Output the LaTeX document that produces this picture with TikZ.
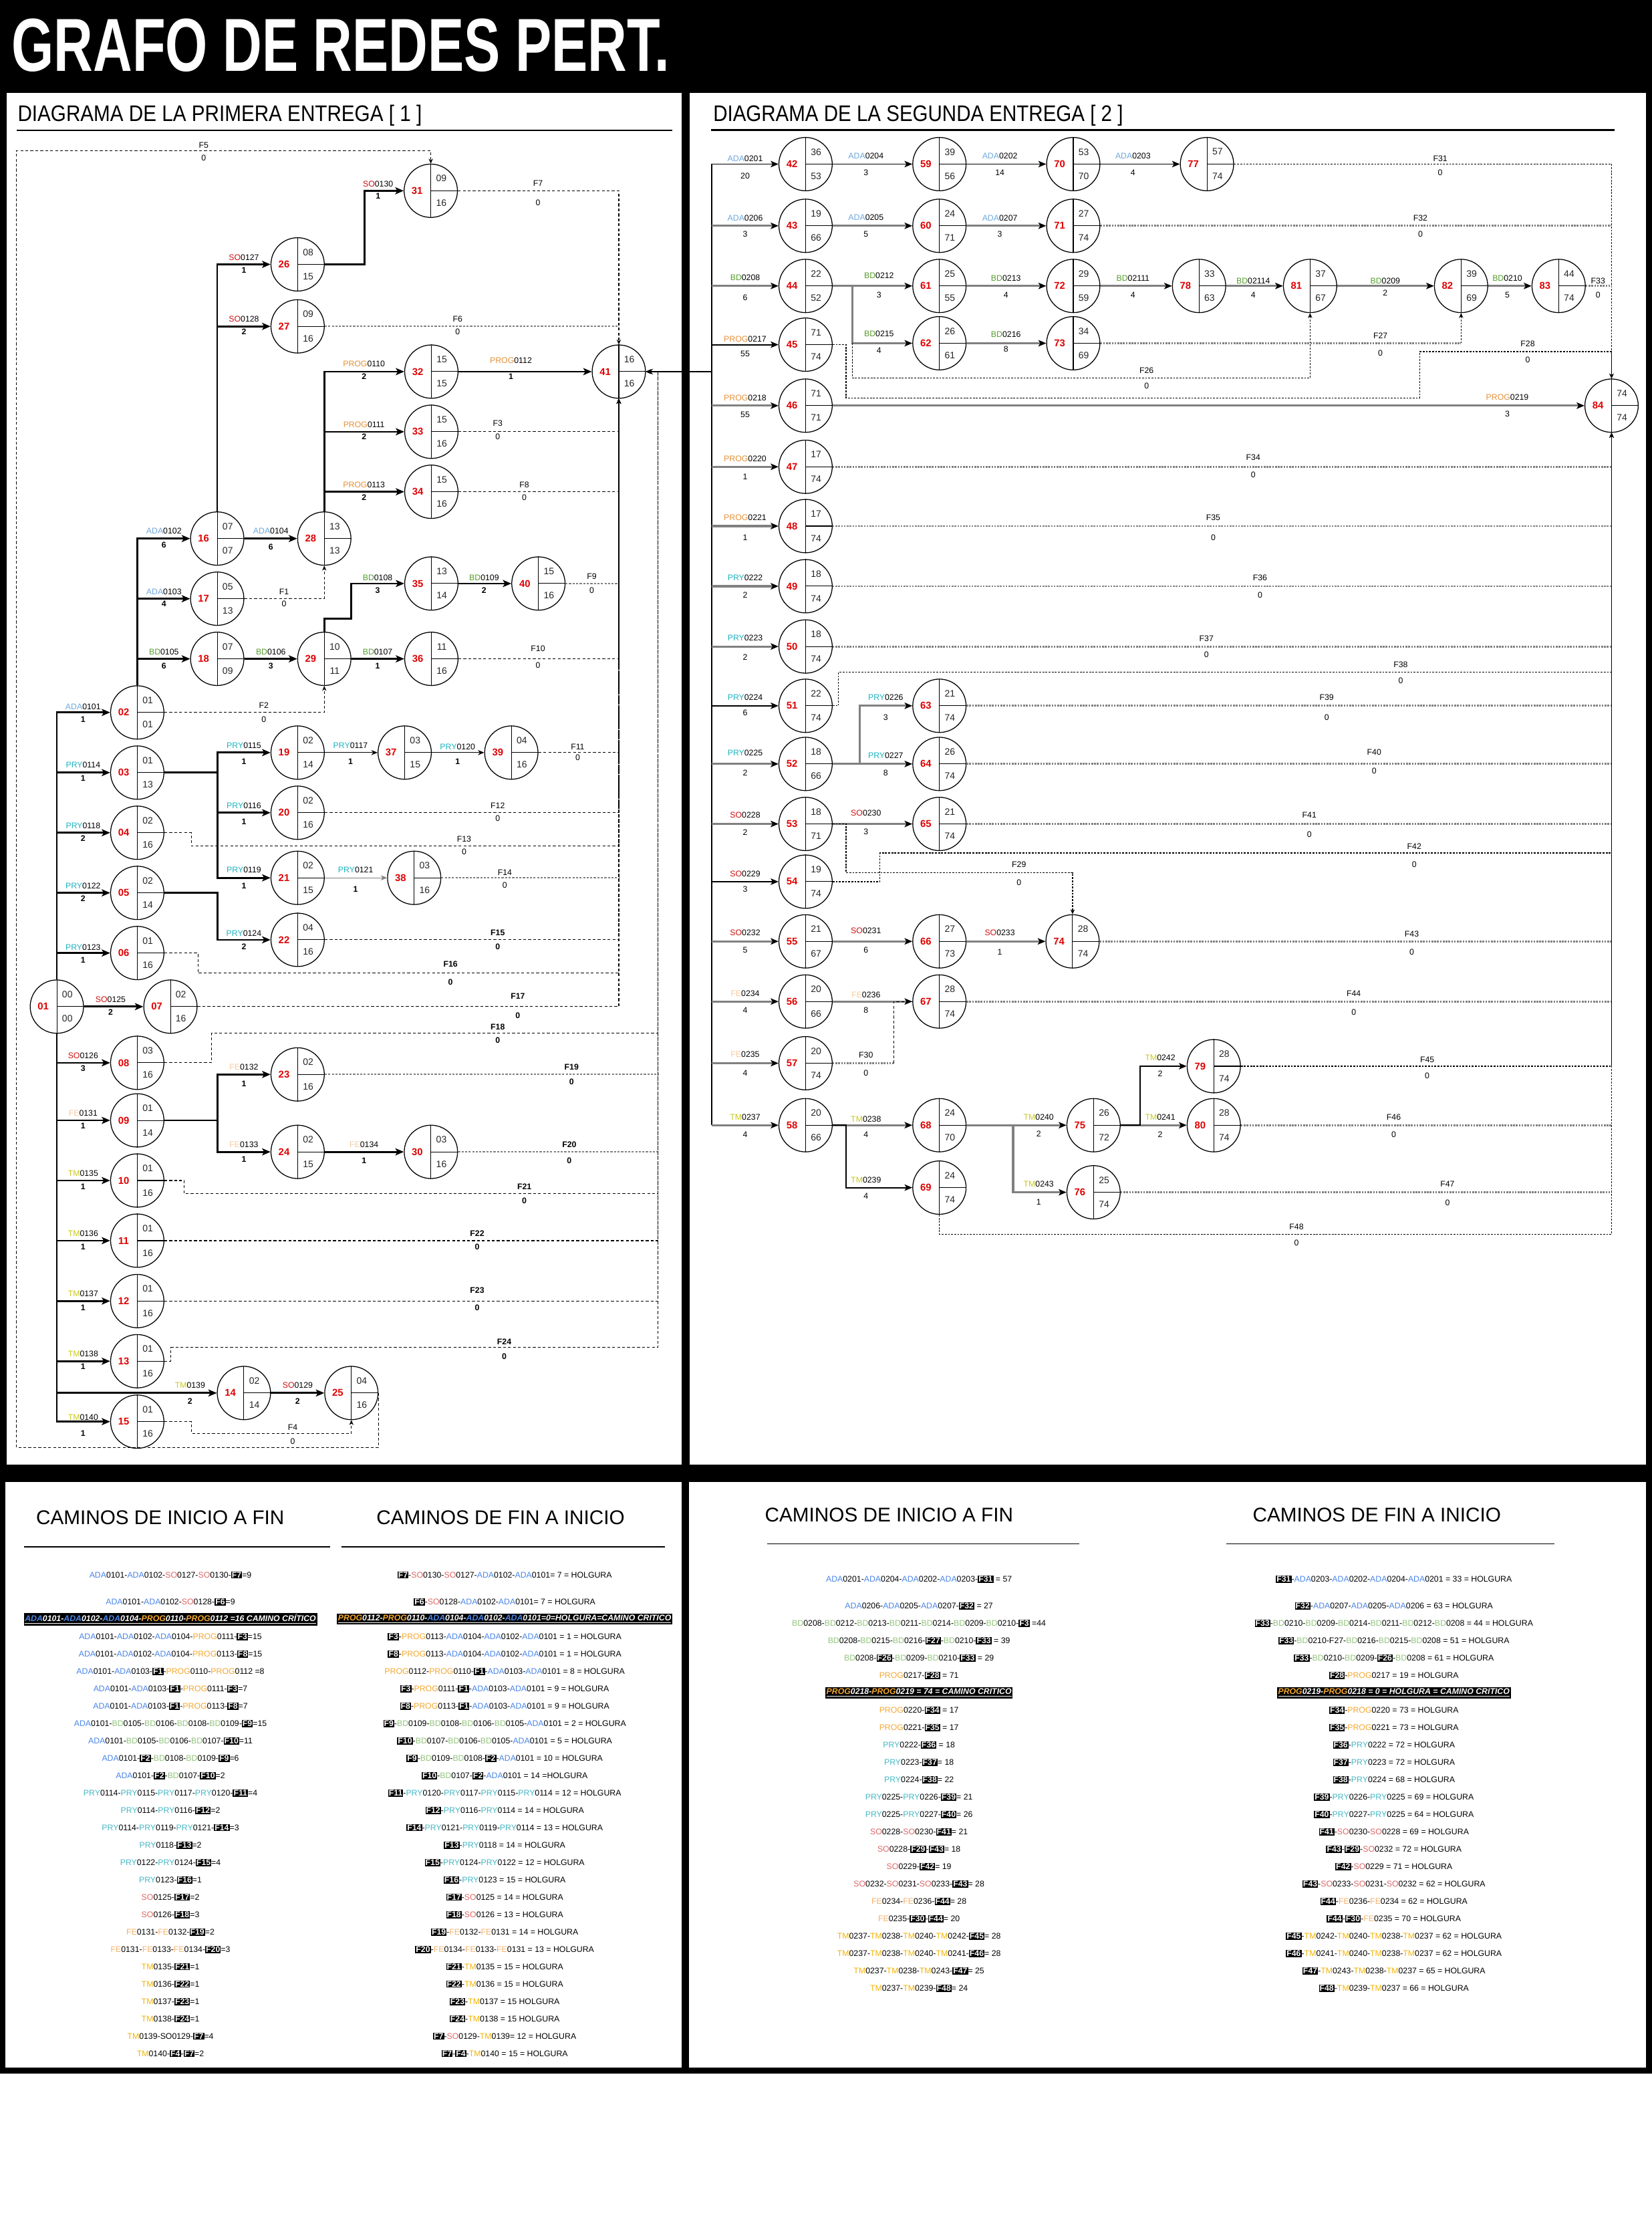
\documentclass[tikz,border=0pt]{standalone}
\usepackage{fontspec}
\setmainfont{Liberation Sans}
\usepackage{graphicx}
\usetikzlibrary{arrows.meta,calc}
\definecolor{cADA}{HTML}{6FA8DC}
\definecolor{cSO}{HTML}{D01010}
\definecolor{cPROG}{HTML}{E69138}
\definecolor{cBD}{HTML}{559E2E}
\definecolor{cPRY}{HTML}{1CB4C0}
\definecolor{cFE}{HTML}{F9CB9C}
\definecolor{cTM}{HTML}{C8C81E}
\definecolor{cRed}{HTML}{E00000}
\definecolor{kADA}{HTML}{4A86E8}
\definecolor{kSO}{HTML}{E06666}
\definecolor{kPROG}{HTML}{F5A830}
\definecolor{kBD}{HTML}{93C47D}
\definecolor{kPRY}{HTML}{45B8C4}
\definecolor{kFE}{HTML}{F6B26B}
\definecolor{kTM}{HTML}{F4B400}
\definecolor{lgray}{HTML}{808080}
\newcommand\pADA{\textcolor{cADA}{ADA}}
\newcommand\pSO{\textcolor{cSO}{SO}}
\newcommand\pPROG{\textcolor{cPROG}{PROG}}
\newcommand\pBD{\textcolor{cBD}{BD}}
\newcommand\pPRY{\textcolor{cPRY}{PRY}}
\newcommand\pFE{\textcolor{cFE}{FE}}
\newcommand\pTM{\textcolor{cTM}{TM}}
\newcommand\qADA{\textcolor{kADA}{ADA}}
\newcommand\qSO{\textcolor{kSO}{SO}}
\newcommand\qPROG{\textcolor{kPROG}{PROG}}
\newcommand\qBD{\textcolor{kBD}{BD}}
\newcommand\qPRY{\textcolor{kPRY}{PRY}}
\newcommand\qFE{\textcolor{kFE}{FE}}
\newcommand\qTM{\textcolor{kTM}{TM}}
\newcommand\fb[1]{{\setlength{\fboxsep}{0.5pt}\colorbox{black}{\textcolor{white}{\bfseries #1}}}}
\newcommand\crit[1]{{\setlength{\fboxsep}{0.8pt}\colorbox{black}{\color{white}\bfseries\itshape\underline{#1}}}}
\newcommand\pn[6]{%
 \node[pc] (#1) at (#2,#3) {};
 \draw[line width=0.5pt] (#1.north) -- (#1.south) (#1.center) -- (#1.east);
 \node[ntx] (#1n) at ([xshift=-9.6pt]#1.center) {#4};
 \node[vtx] (#1a) at ([xshift=7.4pt,yshift=8.6pt]#1.center) {#5};
 \node[vtx] (#1b) at ([xshift=7.4pt,yshift=-8.6pt]#1.center) {#6};}
\newcounter{lc}
\newcommand\el[5]{\stepcounter{lc}%
 \node[elab] (la\arabic{lc}) at (#1,#2) {#3};
 \node[edurb] (lb\arabic{lc}) at (#1,#4) {#5};}
\newcommand\er[5]{\stepcounter{lc}%
 \node[elab] (la\arabic{lc}) at (#1,#2) {#3};
 \node[elab] (lb\arabic{lc}) at (#1,#4) {#5};}
\newcommand\ef[4]{\stepcounter{lc}%
 \node[elab] (la\arabic{lc}) at (#1,#2) {#3};
 \node[elab] (lb\arabic{lc}) at (#1,#4) {0};}
\newcommand\efb[4]{\stepcounter{lc}%
 \node[edurb] (la\arabic{lc}) at (#1,#2) {#3};
 \node[edurb] (lb\arabic{lc}) at (#1,#4) {0};}
\newcommand\ls[4]{\node[lst] (#1) at (#2,#3) {#4};}
\begin{document}
\begin{tikzpicture}[x=1pt,y=-1pt,
 pc/.style={circle,draw,line width=0.6pt,minimum size=37.6pt,inner sep=0pt,fill=white},
 ntx/.style={font=\fontsize{7}{7}\selectfont\bfseries,text=cRed,inner sep=0pt},
 vtx/.style={font=\fontsize{6.6}{7}\selectfont,text=black!85,inner sep=0pt},
 elab/.style={font=\fontsize{5.8}{6}\selectfont,inner sep=0pt},
 edurb/.style={font=\fontsize{5.8}{6}\selectfont\bfseries,inner sep=0pt},
 lst/.style={font=\fontsize{5.8}{6}\selectfont,inner sep=0pt},
 bhead/.style={font=\fontsize{14}{14}\selectfont,inner sep=0pt},
 actk/.style={line width=1.3pt,-{Stealth[length=6pt,width=5pt,inset=1.5pt]}},
 actt/.style={line width=0.6pt,-{Stealth[length=4.5pt,width=3.6pt]}},
 dum/.style={line width=0.5pt,dash pattern=on 2pt off 1.5pt,-{Stealth[length=3.5pt,width=3pt]}},
 dumg/.style={line width=1.1pt,lgray,dash pattern=on 1.5pt off 1pt},
 rb/.style={line width=0.9pt,-{Stealth[length=5.5pt,width=4.5pt,inset=1.3pt]}},
 rg/.style={line width=1.5pt,lgray,-{Stealth[length=5.5pt,width=4.5pt,inset=1.3pt,color=black]}},
 rdk/.style={line width=0.6pt,dash pattern=on 1.3pt off 0.9pt,-{Stealth[length=3.5pt,width=3pt]}},
 rdg/.style={line width=1.3pt,lgray,dash pattern=on 1.2pt off 0.8pt}]
\useasboundingbox (0,0) rectangle (1165,1568);
% ---------- background and frames
\fill[white] (0,0) rectangle (1165,1568);
\fill[black] (0,0) rectangle (1165,1462);
\fill[white] (4.5,65.5) rectangle (480.5,1032.5);
\fill[white] (486.5,65.5) rectangle (1160.8,1032.5);
\fill[white] (4,1045) rectangle (480.5,1457.5);
\fill[white] (486,1045) rectangle (1160.8,1457.5);
\node[anchor=base west,inner sep=0pt,text=white] (title) at (8,50) {\resizebox{464pt}{37pt}{\bfseries GRAFO DE REDES PERT.}};
\node[anchor=base west,inner sep=0pt] (h1) at (12.3,85.7) {\resizebox{285pt}{11.5pt}{DIAGRAMA DE LA PRIMERA ENTREGA [ 1 ]}};
\node[anchor=base west,inner sep=0pt] (h2) at (502.8,85.7) {\resizebox{289pt}{11.5pt}{DIAGRAMA DE LA SEGUNDA ENTREGA [ 2 ]}};
\draw[line width=1.3pt] (11.7,91.9) -- (474,91.9);
\draw[line width=1.3pt] (501.5,91.7) -- (1138.6,91.7);
\node[bhead] (b1) at (113,1070) {CAMINOS DE INICIO A FIN};
\node[bhead] (b2) at (353,1070) {CAMINOS DE FIN A INICIO};
\node[bhead] (b3) at (627,1068) {CAMINOS DE INICIO A FIN};
\node[bhead] (b4) at (971,1068) {CAMINOS DE FIN A INICIO};
\draw[line width=0.8pt] (17,1090.5) -- (233,1090.5);
\draw[line width=0.8pt] (241,1090.5) -- (469,1090.5);
\draw[line width=0.8pt] (541,1088.5) -- (761,1088.5);
\draw[line width=0.8pt] (865,1088.5) -- (1096,1088.5);
% ---------- left nodes
\pn{n01}{40.1}{709.7}{01}{00}{00}
\pn{n02}{96.8}{502.3}{02}{01}{01}
\pn{n03}{96.8}{544.7}{03}{01}{13}
\pn{n04}{96.8}{587.1}{04}{02}{16}
\pn{n05}{96.8}{629.5}{05}{02}{14}
\pn{n06}{96.8}{671.9}{06}{01}{16}
\pn{n07}{120.2}{709.7}{07}{02}{16}
\pn{n08}{96.8}{749.3}{08}{03}{16}
\pn{n09}{96.8}{789.9}{09}{01}{14}
\pn{n10}{96.8}{832.3}{10}{01}{16}
\pn{n11}{96.8}{874.7}{11}{01}{16}
\pn{n12}{96.8}{917.3}{12}{01}{16}
\pn{n13}{96.8}{959.7}{13}{01}{16}
\pn{n15}{96.8}{1002.3}{15}{01}{16}
\pn{n14}{172.0}{982.1}{14}{02}{14}
\pn{n25}{247.8}{982.1}{25}{04}{16}
\pn{n16}{153.2}{379.7}{16}{07}{07}
\pn{n17}{153.2}{422.1}{17}{05}{13}
\pn{n18}{153.2}{464.5}{18}{07}{09}
\pn{n26}{209.9}{186.4}{26}{08}{15}
\pn{n27}{209.9}{230.1}{27}{09}{16}
\pn{n28}{228.7}{379.7}{28}{13}{13}
\pn{n29}{228.7}{464.5}{29}{10}{11}
\pn{n31}{303.8}{134.5}{31}{09}{16}
\pn{n32}{304.2}{262.0}{32}{15}{15}
\pn{n33}{304.2}{304.4}{33}{15}{16}
\pn{n34}{304.2}{346.7}{34}{15}{16}
\pn{n35}{304.2}{411.4}{35}{13}{14}
\pn{n36}{304.2}{464.5}{36}{11}{16}
\pn{n40}{379.7}{411.4}{40}{15}{16}
\pn{n41}{436.4}{262.0}{41}{16}{16}
\pn{n19}{209.9}{530.6}{19}{02}{14}
\pn{n37}{285.4}{530.6}{37}{03}{15}
\pn{n39}{360.6}{530.6}{39}{04}{16}
\pn{n20}{209.9}{573.0}{20}{02}{16}
\pn{n21}{209.9}{618.9}{21}{02}{15}
\pn{n38}{292.1}{618.9}{38}{03}{16}
\pn{n22}{209.9}{662.6}{22}{04}{16}
\pn{n23}{209.9}{757.5}{23}{02}{16}
\pn{n24}{209.9}{812.1}{24}{02}{15}
\pn{n30}{303.9}{812.1}{30}{03}{16}
% ---------- right nodes
\pn{n42}{568.1}{115.7}{42}{36}{53}
\pn{n59}{662.5}{115.7}{59}{39}{56}
\pn{n70}{756.9}{115.7}{70}{53}{70}
\pn{n77}{851.2}{115.7}{77}{57}{74}
\pn{n43}{568.1}{159.2}{43}{19}{66}
\pn{n60}{662.5}{159.2}{60}{24}{71}
\pn{n71}{756.9}{159.2}{71}{27}{74}
\pn{n44}{568.1}{201.6}{44}{22}{52}
\pn{n61}{662.5}{201.6}{61}{25}{55}
\pn{n72}{756.9}{201.6}{72}{29}{59}
\pn{n78}{845.6}{201.6}{78}{33}{63}
\pn{n81}{923.9}{201.6}{81}{37}{67}
\pn{n82}{1030.4}{201.6}{82}{39}{69}
\pn{n83}{1099.2}{201.6}{83}{44}{74}
\pn{n45}{568.1}{243.0}{45}{71}{74}
\pn{n62}{662.5}{242.0}{62}{26}{61}
\pn{n73}{756.9}{242.0}{73}{34}{69}
\pn{n46}{568.1}{286.0}{46}{71}{71}
\pn{n84}{1136.5}{286.0}{84}{74}{74}
\pn{n47}{568.1}{329.1}{47}{17}{74}
\pn{n48}{568.1}{370.9}{48}{17}{74}
\pn{n49}{568.1}{413.3}{49}{18}{74}
\pn{n50}{568.1}{455.8}{50}{18}{74}
\pn{n51}{568.1}{497.6}{51}{22}{74}
\pn{n63}{662.5}{497.6}{63}{21}{74}
\pn{n52}{568.1}{538.6}{52}{18}{66}
\pn{n64}{662.5}{538.6}{64}{26}{74}
\pn{n53}{568.1}{580.9}{53}{18}{71}
\pn{n65}{662.5}{580.9}{65}{21}{74}
\pn{n54}{568.1}{621.6}{54}{19}{74}
\pn{n55}{568.1}{663.7}{55}{21}{67}
\pn{n66}{662.5}{663.7}{66}{27}{73}
\pn{n74}{756.4}{663.7}{74}{28}{74}
\pn{n56}{568.1}{706.1}{56}{20}{66}
\pn{n67}{662.5}{706.1}{67}{28}{74}
\pn{n57}{568.1}{749.6}{57}{20}{74}
\pn{n79}{856.0}{751.7}{79}{28}{74}
\pn{n58}{568.1}{793.3}{58}{20}{66}
\pn{n68}{662.5}{793.3}{68}{24}{70}
\pn{n75}{771.2}{793.3}{75}{26}{72}
\pn{n80}{856.0}{793.3}{80}{28}{74}
\pn{n69}{662.5}{837.3}{69}{24}{74}
\pn{n76}{771.2}{840.6}{76}{25}{74}
\coordinate (j41) at (464.1,262.0);
\coordinate (rt) at (502,262.0);
% ---------- left edges
\foreach \t in {n02,n03,n04,n05,n06} {\draw[actk] (n01.north) |- (\t.west);}
\draw[actk] (n01.east) -- (n07.west);
\foreach \t in {n08,n09,n10,n11,n12,n13,n14,n15} {\draw[actk] (n01.south) |- (\t.west);}
\foreach \t in {n16,n17,n18} {\draw[actk] (n02.north) |- (\t.west);}
\draw[dum] (n02.east) -| (n29.south);
\draw[actk] (n16.north) |- (n26.west);
\draw[actk] (n16.north) |- (n27.west);
\draw[actk] (n16.east) -- (n28.west);
\draw[actk] (n26.east) -- ++(28,0) |- (n31.west);
\draw[dum] (n31.east) -| (n41.north);
\draw[dumg] (n27.east) -- (n27.east -| n41.north);
\foreach \t in {n32,n33,n34} {\draw[actk] (n28.north) |- (\t.west);}
\draw[actk] (n32.east) -- (n41.west);
\draw[dum] (n33.east) -| (n41.south);
\draw[dum] (n34.east) -| (n41.south);
\draw[dum] (n17.east) -| (n28.south);
\draw[actk] (n18.east) -- (n29.west);
\draw[actk] (n29.north) -- ++(0,-9.3) -- ++(18.8,0) |- (n35.west);
\draw[actk] (n29.east) -- (n36.west);
\draw[actk] (n35.east) -- (n40.west);
\draw[dumg] (n40.east) -- (n40.east -| n41.south);
\draw[dum] (n36.east) -| (n41.south);
\foreach \t in {n19,n20,n21} {\draw[actk] (n03.east) -- ++(37.6,0) |- (\t.west);}
\draw[actt] (n19.east) -- (n37.west);
\draw[actt] (n37.east) -- (n39.west);
\draw[dum] (n39.east) -| (n41.south);
\draw[dum] (n20.east) -| (n41.south);
\draw[dum] (n04.east) -- ++(19.1,0) -- ++(0,9.5) -| (n41.south);
\draw[actt,lgray] (n21.east) -- (n38.west);
\draw[dumg] (n38.east) -- (n38.east -| n41.south);
\draw[actk] (n05.east) -- ++(37.6,0) |- (n22.west);
\draw[dum] (n22.east) -| (n41.south);
\draw[dum] (n06.east) -- ++(23.7,0) -- ++(0,14.2) -| (n41.south);
\draw[dum] (n07.east) -| (n41.south);
\draw[dum] (n08.east) -- ++(33.2,0) -- ++(0,-20.7) -| (j41) -- (n41.east);
\draw[actk] (n09.east) -- ++(37.6,0) |- (n23.west);
\draw[actk] (n09.east) -- ++(37.6,0) |- (n24.west);
\draw[actk] (n24.east) -- (n30.west);
\draw[dumg] (n23.east) -- (n23.east -| j41);
\draw[dumg] (n30.east) -- (n30.east -| j41);
\draw[dum] (n10.east) -- ++(14.1,0) -- ++(0,9.4) -| (j41) -- (n41.east);
\draw[dum] (n11.east) -| (j41) -- (n41.east);
\draw[dum] (n12.east) -| (j41) -- (n41.east);
\draw[dum] (n13.east) -- ++(4.6,0) -- ++(0,-9.6) -| (j41) -- (n41.east);
\draw[actk] (n14.east) -- (n25.west);
\draw[dum] (n15.east) -- ++(19.1,0) -- ++(0,8.3) -| (n25.south);
\draw[dum] (n25.east) |- (11.7,1020.7) -- (11.7,106.2) -| (n31.north);
\draw[line width=0.8pt,-{Stealth[length=5pt,width=4pt]}] (rt) -- (n41.east);
% ---------- right edges
\draw[line width=0.8pt] (rt |- n42.west) -- (rt |- n58.west);
\draw[rb] (rt |- n42.west) -- (n42.west);
\draw[rb] (n42.east) -- (n59.west);
\draw[rb] (n59.east) -- (n70.west);
\draw[rb] (n70.east) -- (n77.west);
\draw[rdk] (n77.east) -| (n84.north);
\draw[rg] (rt |- n43.west) -- (n43.west);
\draw[rg] (n43.east) -- (n60.west);
\draw[rg] (n60.east) -- (n71.west);
\draw[rdg] (n71.east) -- (n71.east -| n84.north);
\draw[rg] (rt |- n44.west) -- (n44.west);
\draw[rg] (n44.east) -- (n61.west);
\draw[rg] (n44.east) -- ++(13.8,0) |- (n62.west);
\draw[rg] (n61.east) -- (n72.west);
\draw[rg] (n72.east) -- (n78.west);
\draw[rg] (n78.east) -- (n81.west);
\draw[rg] (n81.east) -- (n82.west);
\draw[rg] (n82.east) -- (n83.west);
\draw[rdg] (n83.east) -- (n83.east -| n84.north);
\draw[rg] (n62.east) -- (n73.west);
\draw[rdg] (n73.east) -- (n73.east -| n82.south);
\draw[rdk] (n73.east -| n82.south) -- (n82.south);
\coordinate (b44) at ([xshift=13.8pt]n44.east);
\draw[rdk] (b44 |- n62.west) -- ++(0,24.4) -| (n81.south);
\draw[rb] (rt |- n45.west) -- (n45.west);
\draw[rdk] (n45.east) -- ++(9.5,0) -- ++(0,37.5) -- ++(404.4,0) -- ++(0,-32.6) -| (n84.north);
\draw[rg] (rt |- n46.west) -- (n46.west);
\draw[rg] (n46.east) -- (n84.west);
\foreach \t in {n47,n48,n49,n50} {\draw[rg] (rt |- \t.west) -- (\t.west); \draw[rdg] (\t.east) -- (\t.east -| n84.south);}
\draw[rb] (rt |- n51.west) -- (n51.west);
\draw[rdk] (n51.east) -- ++(4.2,0) -- ++(0,-23.7) -| (n84.south);
\draw[rg] (rt |- n52.west) -- (n52.west);
\draw[rg] (n52.east) -- ++(19,0) |- (n63.west);
\draw[rg] (n52.east) -- (n64.west);
\draw[rdg] (n63.east) -- (n63.east -| n84.south);
\draw[rdg] (n64.east) -- (n64.east -| n84.south);
\draw[rg] (rt |- n53.west) -- (n53.west);
\draw[rg] (n53.east) -- (n65.west);
\draw[rdg] (n65.east) -- (n65.east -| n84.south);
\draw[rdk] (n53.east) -- ++(9.5,0) -- ++(0,34.4) -| (n74.north);
\draw[rb] (rt |- n54.west) -- (n54.west);
\draw[rdk] (n54.east) -- ++(33.4,0) -- ++(0,-20.2) -| (n84.south);
\draw[rg] (rt |- n55.west) -- (n55.west);
\draw[rg] (n55.east) -- (n66.west);
\draw[rg] (n66.east) -- (n74.west);
\draw[rdg] (n74.east) -- (n74.east -| n84.south);
\draw[rg] (rt |- n56.west) -- (n56.west);
\draw[rg] (n56.east) -- (n67.west);
\draw[rdg] (n67.east) -- (n67.east -| n84.south);
\draw[rg] (rt |- n57.west) -- (n57.west);
\draw[rdg] (n57.east) -- ++(43,0);
\draw[line width=0.5pt,dash pattern=on 2pt off 1.5pt] ([xshift=43pt]n57.east) |- (n67.west);
\draw[rg] (rt |- n58.west) -- (n58.west);
\draw[rg] (n58.east) -- (n68.west);
\draw[rb] (n58.east) -- ++(9.5,0) |- (n69.west);
\draw[rg] (n68.east) -- (n75.west);
\draw[rg] (n68.east) -- ++(32.9,0) |- (n76.west);
\draw[rg] (n75.east) -- (n80.west);
\draw[rb] (n75.east) -- ++(13.8,0) |- (n79.west);
\draw[rdk] (n79.east) -| (n84.south);
\draw[rdg] (n80.east) -- (n80.east -| n84.south);
\draw[rdg] (n76.east) -- (n76.east -| n84.south);
\draw[rdk] (n69.south) -- ++(0,13.7) -| (n84.south);
\draw[line width=0.6pt,-{Stealth[length=3.5pt,width=3pt]}] (n84.south |- n79.east) -- (n84.south);
% ---------- left labels
\el{58.6}{498.2}{\pADA0101}{507.1}{1}
\el{58.6}{539.5}{\pPRY0114}{548.5}{1}
\el{58.6}{582.1}{\pPRY0118}{590.9}{2}
\el{58.6}{624.4}{\pPRY0122}{633.4}{2}
\el{58.6}{668.0}{\pPRY0123}{676.9}{1}
\el{78.0}{704.5}{\pSO0125}{713.6}{2}
\el{58.6}{744.2}{\pSO0126}{753.3}{3}
\el{58.6}{784.7}{\pFE0131}{793.7}{1}
\el{58.6}{827.2}{\pTM0135}{836.5}{1}
\el{58.6}{869.7}{\pTM0136}{878.9}{1}
\el{58.6}{912.1}{\pTM0137}{922.1}{1}
\el{58.6}{954.5}{\pTM0138}{963.6}{1}
\el{134.0}{976.6}{\pTM0139}{988.1}{2}
\el{58.6}{999.4}{\pTM0140}{1010.6}{1}
\el{209.9}{976.6}{\pSO0129}{988.1}{2}
\el{115.6}{374.5}{\pADA0102}{384.3}{6}
\el{115.6}{417.3}{\pADA0103}{425.9}{4}
\el{115.6}{459.4}{\pBD0105}{469.4}{6}
\el{191.0}{374.5}{\pADA0104}{385.8}{6}
\el{191.0}{459.4}{\pBD0106}{469.4}{3}
\el{266.3}{459.4}{\pBD0107}{469.4}{1}
\el{266.3}{407.5}{\pBD0108}{416.4}{3}
\el{341.4}{407.5}{\pBD0109}{416.4}{2}
\el{172.0}{181.5}{\pSO0127}{190.4}{1}
\el{172.0}{224.8}{\pSO0128}{233.9}{2}
\el{266.6}{129.7}{\pSO0130}{138.3}{1}
\el{256.7}{256.7}{\pPROG0110}{265.6}{2}
\el{256.7}{299.2}{\pPROG0111}{308.0}{2}
\el{256.7}{341.7}{\pPROG0113}{350.6}{2}
\el{360.3}{254.3}{\pPROG0112}{265.6}{1}
\el{172.0}{525.6}{\pPRY0115}{537.0}{1}
\el{247.2}{525.6}{\pPRY0117}{537.0}{1}
\el{322.7}{526.5}{\pPRY0120}{537.0}{1}
\el{172.0}{567.9}{\pPRY0116}{579.3}{1}
\el{172.0}{613.3}{\pPRY0119}{624.7}{1}
\el{250.8}{613.3}{\pPRY0121}{627.1}{1}
\el{172.0}{658.2}{\pPRY0124}{667.5}{2}
\el{172.0}{752.3}{\pFE0132}{763.9}{1}
\el{172.0}{807.0}{\pFE0133}{817.5}{1}
\el{256.7}{807.0}{\pFE0134}{818.4}{1}
\ef{143.6}{102.2}{F5}{111.3}
\ef{379.4}{129.4}{F7}{143.0}
\ef{322.7}{224.8}{F6}{233.9}
\ef{351.0}{298.6}{F3}{308.0}
\ef{369.8}{341.8}{F8}{350.6}
\ef{200.3}{417.0}{F1}{425.9}
\ef{417.3}{406.3}{F9}{416.4}
\ef{379.4}{457.1}{F10}{469.1}
\ef{186.1}{497.4}{F2}{507.1}
\ef{407.4}{526.5}{F11}{534.3}
\ef{351.0}{568.0}{F12}{576.9}
\ef{327.3}{591.4}{F13}{600.4}
\ef{356.0}{615.0}{F14}{623.9}
\efb{351.0}{657.7}{F15}{667.5}
\efb{317.7}{679.7}{F16}{692.3}
\efb{365.2}{702.2}{F17}{715.9}
\efb{351.0}{723.8}{F18}{733.5}
\efb{403.1}{752.3}{F19}{762.7}
\efb{401.5}{807.0}{F20}{818.4}
\efb{369.8}{836.8}{F21}{846.7}
\efb{336.5}{869.8}{F22}{878.9}
\efb{336.5}{909.5}{F23}{922.1}
\efb{355.6}{946.2}{F24}{956.5}
\ef{206.5}{1006.4}{F4}{1016.4}
% ---------- right labels
\er{525.5}{111.6}{\pADA0201}{123.9}{20}
\er{610.7}{110.1}{\pADA0204}{121.8}{3}
\er{705.1}{110.1}{\pADA0202}{121.8}{14}
\er{799.0}{110.1}{\pADA0203}{121.8}{4}
\ef{1015.7}{111.6}{F31}{121.8}
\er{525.5}{153.6}{\pADA0206}{165.3}{3}
\er{610.7}{153.3}{\pADA0205}{165.3}{5}
\er{705.1}{153.6}{\pADA0207}{165.3}{3}
\ef{1001.7}{153.6}{F32}{165.3}
\er{525.5}{195.7}{\pBD0208}{209.8}{6}
\er{619.9}{194.1}{\pBD0212}{207.8}{3}
\er{709.4}{196.0}{\pBD0213}{207.8}{4}
\er{799.0}{196.0}{\pBD02111}{207.8}{4}
\er{883.8}{198.0}{\pBD02114}{207.8}{4}
\er{976.9}{198.0}{\pBD0209}{206.7}{2}
\er{1063.0}{196.0}{\pBD0210}{207.8}{5}
\ef{1127.0}{198.0}{F33}{207.8}
\er{619.9}{235.4}{\pBD0215}{247.0}{4}
\er{709.4}{235.7}{\pBD0216}{246.3}{8}
\ef{973.5}{236.5}{F27}{249.1}
\er{525.5}{238.9}{\pPROG0217}{249.3}{55}
\ef{1077.4}{242.3}{F28}{253.8}
\ef{808.6}{261.2}{F26}{272.2}
\er{525.5}{280.5}{\pPROG0218}{292.3}{55}
\er{1063.0}{280.2}{\pPROG0219}{292.0}{3}
\er{525.5}{323.3}{\pPROG0220}{336.3}{1}
\ef{883.8}{322.7}{F34}{334.8}
\er{525.5}{365.1}{\pPROG0221}{378.9}{1}
\ef{855.6}{365.1}{F35}{378.9}
\er{525.5}{407.5}{\pPRY0222}{419.6}{2}
\ef{888.6}{407.5}{F36}{419.6}
\er{525.5}{449.5}{\pPRY0223}{463.6}{2}
\ef{850.8}{450.0}{F37}{461.7}
\ef{987.8}{468.8}{F38}{479.7}
\er{525.5}{491.9}{\pPRY0224}{502.4}{6}
\er{624.6}{491.9}{\pPRY0226}{506.0}{3}
\ef{935.6}{491.9}{F39}{506.0}
\er{525.5}{530.9}{\pPRY0225}{544.9}{2}
\er{624.6}{532.5}{\pPRY0227}{544.9}{8}
\ef{969.1}{530.4}{F40}{543.5}
\er{525.5}{574.4}{\pSO0228}{587.0}{2}
\er{610.7}{573.2}{\pSO0230}{586.2}{3}
\ef{923.4}{574.4}{F41}{588.2}
\ef{997.4}{596.7}{F42}{609.7}
\er{525.5}{616.2}{\pSO0229}{627.1}{3}
\ef{718.6}{609.5}{F29}{622.0}
\er{525.5}{657.4}{\pSO0232}{669.8}{5}
\er{610.7}{656.2}{\pSO0231}{669.8}{6}
\er{705.1}{657.4}{\pSO0233}{671.1}{1}
\ef{995.6}{658.5}{F43}{671.1}
\er{525.5}{700.4}{\pFE0234}{712.4}{4}
\er{610.7}{701.4}{\pFE0236}{712.4}{8}
\ef{954.7}{700.4}{F44}{713.5}
\er{525.5}{743.3}{\pFE0235}{756.7}{4}
\ef{610.7}{743.8}{F30}{756.7}
\er{818.2}{745.8}{\pTM0242}{757.1}{2}
\ef{1006.5}{747.3}{F45}{758.3}
\er{525.5}{787.6}{\pTM0237}{800.0}{4}
\er{610.7}{789.0}{\pTM0238}{800.0}{4}
\er{732.5}{787.6}{\pTM0240}{799.5}{2}
\er{818.2}{787.6}{\pTM0241}{800.0}{2}
\ef{982.9}{787.6}{F46}{800.0}
\er{610.7}{832.0}{\pTM0239}{843.1}{4}
\er{732.5}{834.9}{\pTM0243}{847.3}{1}
\ef{1020.8}{834.9}{F47}{848.2}
\ef{914.3}{864.8}{F48}{876.4}
% ---------- lists bottom left: inicio a fin
\ls{a1}{120.2}{1110.3}{\qADA0101-\qADA0102-\qSO0127-\qSO0130-\fb{F7}=9}
\ls{a2}{120.2}{1129.5}{\qADA0101-\qADA0102-\qSO0128-\fb{F6}=9}
\ls{a3}{120.2}{1141.6}{\crit{\qADA0101-\qADA0102-\qADA0104-\qPROG0110-\qPROG0112 =16 CAMINO CRÍTICO}}
\ls{a4}{120.2}{1153.85}{\qADA0101-\qADA0102-\qADA0104-\qPROG0111-\fb{F3}=15}
\ls{a5}{120.2}{1166.1}{\qADA0101-\qADA0102-\qADA0104-\qPROG0113-\fb{F8}=15}
\ls{a6}{120.2}{1178.35}{\qADA0101-\qADA0103-\fb{F1}-\qPROG0110-\qPROG0112 =8}
\ls{a7}{120.2}{1190.6}{\qADA0101-\qADA0103-\fb{F1}-\qPROG0111-\fb{F3}=7}
\ls{a8}{120.2}{1202.85}{\qADA0101-\qADA0103-\fb{F1}-\qPROG0113-\fb{F8}=7}
\ls{a9}{120.2}{1215.1}{\qADA0101-\qBD0105-\qBD0106-\qBD0108-\qBD0109-\fb{F9}=15}
\ls{a10}{120.2}{1227.35}{\qADA0101-\qBD0105-\qBD0106-\qBD0107-\fb{F10}=11}
\ls{a11}{120.2}{1239.6}{\qADA0101-\fb{F2}-\qBD0108-\qBD0109-\fb{F9}=6}
\ls{a12}{120.2}{1251.85}{\qADA0101-\fb{F2}-\qBD0107-\fb{F10}=2}
\ls{a13}{120.2}{1264.1}{\qPRY0114-\qPRY0115-\qPRY0117-\qPRY0120-\fb{F11}=4}
\ls{a14}{120.2}{1276.35}{\qPRY0114-\qPRY0116-\fb{F12}=2}
\ls{a15}{120.2}{1288.6}{\qPRY0114-\qPRY0119-\qPRY0121-\fb{F14}=3}
\ls{a16}{120.2}{1300.85}{\qPRY0118-\fb{F13}=2}
\ls{a17}{120.2}{1313.1}{\qPRY0122-\qPRY0124-\fb{F15}=4}
\ls{a18}{120.2}{1325.35}{\qPRY0123-\fb{F16}=1}
\ls{a19}{120.2}{1337.6}{\qSO0125-\fb{F17}=2}
\ls{a20}{120.2}{1349.85}{\qSO0126-\fb{F18}=3}
\ls{a21}{120.2}{1362.1}{\qFE0131-\qFE0132-\fb{F19}=2}
\ls{a22}{120.2}{1374.35}{\qFE0131-\qFE0133-\qFE0134-\fb{F20}=3}
\ls{a23}{120.2}{1386.6}{\qTM0135-\fb{F21}=1}
\ls{a24}{120.2}{1398.85}{\qTM0136-\fb{F22}=1}
\ls{a25}{120.2}{1411.1}{\qTM0137-\fb{F23}=1}
\ls{a26}{120.2}{1423.35}{\qTM0138-\fb{F24}=1}
\ls{a27}{120.2}{1435.6}{\qTM0139-SO0129-\fb{F7}=4}
\ls{a28}{120.2}{1447.85}{\qTM0140-\fb{F4}-\fb{F7}=2}
% ---------- lists bottom left: fin a inicio
\ls{c1}{355.9}{1110.3}{\fb{F7}-\qSO0130-\qSO0127-\qADA0102-\qADA0101= 7 = HOLGURA}
\ls{c2}{355.9}{1129.5}{\fb{F6}-\qSO0128-\qADA0102-\qADA0101= 7 = HOLGURA}
\ls{c3}{355.9}{1141.6}{\crit{\qPROG0112-\qPROG0110-\qADA0104-\qADA0102-\qADA0101=0=HOLGURA=CAMINO CRITICO}}
\ls{c4}{355.9}{1153.85}{\fb{F3}-\qPROG0113-\qADA0104-\qADA0102-\qADA0101 = 1 = HOLGURA}
\ls{c5}{355.9}{1166.1}{\fb{F8}-\qPROG0113-\qADA0104-\qADA0102-\qADA0101 = 1 = HOLGURA}
\ls{c6}{355.9}{1178.35}{\qPROG0112-\qPROG0110-\fb{F1}-\qADA0103-\qADA0101 = 8 = HOLGURA}
\ls{c7}{355.9}{1190.6}{\fb{F3}-\qPROG0111-\fb{F1}-\qADA0103-\qADA0101 = 9 = HOLGURA}
\ls{c8}{355.9}{1202.85}{\fb{F8}-\qPROG0113-\fb{F1}-\qADA0103-\qADA0101 = 9 = HOLGURA}
\ls{c9}{355.9}{1215.1}{\fb{F9}-\qBD0109-\qBD0108-\qBD0106-\qBD0105-\qADA0101 = 2 = HOLGURA}
\ls{c10}{355.9}{1227.35}{\fb{F10}-\qBD0107-\qBD0106-\qBD0105-\qADA0101 = 5 = HOLGURA}
\ls{c11}{355.9}{1239.6}{\fb{F9}-\qBD0109-\qBD0108-\fb{F2}-\qADA0101 = 10 = HOLGURA}
\ls{c12}{355.9}{1251.85}{\fb{F10}-\qBD0107-\fb{F2}-\qADA0101 = 14 =HOLGURA}
\ls{c13}{355.9}{1264.1}{\fb{F11}-\qPRY0120-\qPRY0117-\qPRY0115-\qPRY0114 = 12 = HOLGURA}
\ls{c14}{355.9}{1276.35}{\fb{F12}-\qPRY0116-\qPRY0114 = 14 = HOLGURA}
\ls{c15}{355.9}{1288.6}{\fb{F14}-\qPRY0121-\qPRY0119-\qPRY0114 = 13 = HOLGURA}
\ls{c16}{355.9}{1300.85}{\fb{F13}-\qPRY0118 = 14 = HOLGURA}
\ls{c17}{355.9}{1313.1}{\fb{F15}-\qPRY0124-\qPRY0122 = 12 = HOLGURA}
\ls{c18}{355.9}{1325.35}{\fb{F16}-\qPRY0123 = 15 = HOLGURA}
\ls{c19}{355.9}{1337.6}{\fb{F17}-\qSO0125 = 14 = HOLGURA}
\ls{c20}{355.9}{1349.85}{\fb{F18}-\qSO0126 = 13 = HOLGURA}
\ls{c21}{355.9}{1362.1}{\fb{F19}-\qFE0132-\qFE0131 = 14 = HOLGURA}
\ls{c22}{355.9}{1374.35}{\fb{F20}-\qFE0134-\qFE0133-\qFE0131 = 13 = HOLGURA}
\ls{c23}{355.9}{1386.6}{\fb{F21}-\qTM0135 = 15 = HOLGURA}
\ls{c24}{355.9}{1398.85}{\fb{F22}-\qTM0136 = 15 = HOLGURA}
\ls{c25}{355.9}{1411.1}{\fb{F23}-\qTM0137 = 15 HOLGURA}
\ls{c26}{355.9}{1423.35}{\fb{F24}-\qTM0138 = 15 HOLGURA}
\ls{c27}{355.9}{1435.6}{\fb{F7}-\qSO0129-\qTM0139= 12 = HOLGURA}
\ls{c28}{355.9}{1447.85}{\fb{F7}-\fb{F4}-\qTM0140 = 15 = HOLGURA}
% ---------- lists bottom right: inicio a fin
\ls{d1}{648.1}{1113.4}{\qADA0201-\qADA0204-\qADA0202-\qADA0203-\fb{F31} = 57}
\ls{d2}{648.1}{1132.3}{\qADA0206-\qADA0205-\qADA0207-\fb{F32} = 27}
\ls{d3}{648.1}{1144.5}{\qBD0208-\qBD0212-\qBD0213-\qBD0211-\qBD0214-\qBD0209-\qBD0210-\fb{F3} =44}
\ls{d4}{648.1}{1156.75}{\qBD0208-\qBD0215-\qBD0216-\fb{F27}-\qBD0210-\fb{F33} = 39}
\ls{d5}{648.1}{1169}{\qBD0208-\fb{F26}-\qBD0209-\qBD0210-\fb{F33} = 29}
\ls{d6}{648.1}{1181.25}{\qPROG0217-\fb{F28} = 71}
\ls{d7}{648.1}{1193.5}{\crit{\qPROG0218-\qPROG0219 = 74 = CAMINO CRITICO}}
\ls{d8}{648.1}{1205.75}{\qPROG0220-\fb{F34} = 17}
\ls{d9}{648.1}{1218}{\qPROG0221-\fb{F35} = 17}
\ls{d10}{648.1}{1230.25}{\qPRY0222-\fb{F36} = 18}
\ls{d11}{648.1}{1242.5}{\qPRY0223-\fb{F37}= 18}
\ls{d12}{648.1}{1254.75}{\qPRY0224-\fb{F38}= 22}
\ls{d13}{648.1}{1267}{\qPRY0225-\qPRY0226-\fb{F39}= 21}
\ls{d14}{648.1}{1279.25}{\qPRY0225-\qPRY0227-\fb{F40}= 26}
\ls{d15}{648.1}{1291.5}{\qSO0228-\qSO0230-\fb{F41}= 21}
\ls{d16}{648.1}{1303.75}{\qSO0228-\fb{F29}-\fb{F43}= 18}
\ls{d17}{648.1}{1316}{\qSO0229-\fb{F42}= 19}
\ls{d18}{648.1}{1328.25}{\qSO0232-\qSO0231-\qSO0233-\fb{F43}= 28}
\ls{d19}{648.1}{1340.5}{\qFE0234-\qFE0236-\fb{F44}= 28}
\ls{d20}{648.1}{1352.75}{\qFE0235-\fb{F30}-\fb{F44}= 20}
\ls{d21}{648.1}{1365}{\qTM0237-\qTM0238-\qTM0240-\qTM0242-\fb{F45}= 28}
\ls{d22}{648.1}{1377.25}{\qTM0237-\qTM0238-\qTM0240-\qTM0241-\fb{F46}= 28}
\ls{d23}{648.1}{1389.5}{\qTM0237-\qTM0238-\qTM0243-\fb{F47}= 25}
\ls{d24}{648.1}{1401.75}{\qTM0237-\qTM0239-\fb{F48}= 24}
% ---------- lists bottom right: fin a inicio
\ls{e1}{983.0}{1113.4}{\fb{F31}-\qADA0203-\qADA0202-\qADA0204-\qADA0201 = 33 = HOLGURA}
\ls{e2}{983.0}{1132.3}{\fb{F32}-\qADA0207-\qADA0205-\qADA0206 = 63 = HOLGURA}
\ls{e3}{983.0}{1144.5}{\fb{F33}-\qBD0210-\qBD0209-\qBD0214-\qBD0211-\qBD0212-\qBD0208 = 44 = HOLGURA}
\ls{e4}{983.0}{1156.75}{\fb{F33}-\qBD0210-F27-\qBD0216-\qBD0215-\qBD0208 = 51 = HOLGURA}
\ls{e5}{983.0}{1169}{\fb{F33}-\qBD0210-\qBD0209-\fb{F26}-\qBD0208 = 61 = HOLGURA}
\ls{e6}{983.0}{1181.25}{\fb{F28}-\qPROG0217 = 19 = HOLGURA}
\ls{e7}{983.0}{1193.5}{\crit{\qPROG0219-\qPROG0218 = 0 = HOLGURA = CAMINO CRITICO}}
\ls{e8}{983.0}{1205.75}{\fb{F34}-\qPROG0220 = 73 = HOLGURA}
\ls{e9}{983.0}{1218}{\fb{F35}-\qPROG0221 = 73 = HOLGURA}
\ls{e10}{983.0}{1230.25}{\fb{F36}-\qPRY0222 = 72 = HOLGURA}
\ls{e11}{983.0}{1242.5}{\fb{F37}-\qPRY0223 = 72 = HOLGURA}
\ls{e12}{983.0}{1254.75}{\fb{F38}-\qPRY0224 = 68 = HOLGURA}
\ls{e13}{983.0}{1267}{\fb{F39}-\qPRY0226-\qPRY0225 = 69 = HOLGURA}
\ls{e14}{983.0}{1279.25}{\fb{F40}-\qPRY0227-\qPRY0225 = 64 = HOLGURA}
\ls{e15}{983.0}{1291.5}{\fb{F41}-\qSO0230-\qSO0228 = 69 = HOLGURA}
\ls{e16}{983.0}{1303.75}{\fb{F43}-\fb{F29}-\qSO0232 = 72 = HOLGURA}
\ls{e17}{983.0}{1316}{\fb{F42}-\qSO0229 = 71 = HOLGURA}
\ls{e18}{983.0}{1328.25}{\fb{F43}-\qSO0233-\qSO0231-\qSO0232 = 62 = HOLGURA}
\ls{e19}{983.0}{1340.5}{\fb{F44}-\qFE0236-\qFE0234 = 62 = HOLGURA}
\ls{e20}{983.0}{1352.75}{\fb{F44}-\fb{F30}-\qFE0235 = 70 = HOLGURA}
\ls{e21}{983.0}{1365}{\fb{F45}-\qTM0242-\qTM0240-\qTM0238-\qTM0237 = 62 = HOLGURA}
\ls{e22}{983.0}{1377.25}{\fb{F46}-\qTM0241-\qTM0240-\qTM0238-\qTM0237 = 62 = HOLGURA}
\ls{e23}{983.0}{1389.5}{\fb{F47}-\qTM0243-\qTM0238-\qTM0237 = 65 = HOLGURA}
\ls{e24}{983.0}{1401.75}{\fb{F48}-\qTM0239-\qTM0237 = 66 = HOLGURA}
\end{tikzpicture}
\end{document}
